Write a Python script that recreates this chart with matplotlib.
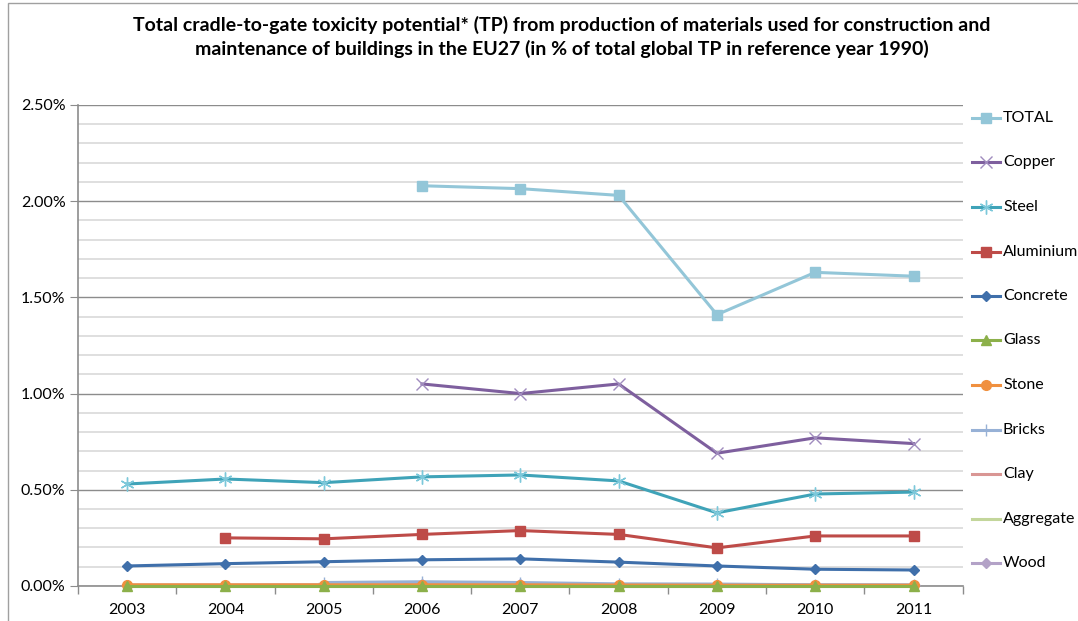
import numpy as np
import matplotlib
matplotlib.use("Agg")
import matplotlib.pyplot as plt
from matplotlib.ticker import MultipleLocator, FuncFormatter
from matplotlib.lines import Line2D
from matplotlib.patches import Rectangle

plt.rcParams['font.family'] = ['Lato', 'DejaVu Sans']

# donnees (en %)
years = ['2003', '2004', '2005', '2006', '2007', '2008', '2009', '2010', '2011']
nan = np.nan
total = [nan, nan, nan, 2.08, 2.065, 2.03, 1.41, 1.63, 1.61]
copper = [nan, nan, nan, 1.05, 1.00, 1.05, 0.69, 0.77, 0.74]
steel = [0.53, 0.556, 0.537, 0.567, 0.577, 0.546, 0.38, 0.478, 0.488]
aluminium = [nan, 0.25, 0.245, 0.268, 0.288, 0.268, 0.198, 0.26, 0.26]
concrete = [0.104, 0.116, 0.126, 0.136, 0.141, 0.124, 0.104, 0.087, 0.083]
glass = [0.001, 0.001, 0.001, 0.001, 0.001, 0.001, 0.001, 0.001, 0.001]
stone = [0.006, 0.006, 0.006, 0.006, 0.006, 0.005, 0.004, 0.004, 0.004]
bricks = [nan, nan, 0.018, 0.022, 0.018, 0.011, 0.010, 0.006, 0.005]
clay = [0.003, 0.003, 0.003, 0.003, 0.003, 0.003, 0.003, 0.003, 0.003]
aggregate = [0.002, 0.002, 0.002, 0.002, 0.002, 0.002, 0.002, 0.002, 0.002]
wood = [0.005, 0.005, 0.006, 0.008, 0.008, 0.007, 0.006, 0.005, 0.005]

# nom, valeurs, couleur ligne, marqueur, taille, couleur marqueur
series = [
    ('TOTAL', total, '#93C6D8', 's', 7, '#93C6D8'),
    ('Copper', copper, '#7E5F9E', 'x', 8, '#A08CBE'),
    ('Steel', steel, '#3FA3B8', (6, 2, 0), 10, '#7CC8DA'),
    ('Aluminium', aluminium, '#BE4B48', 's', 7, '#BE4B48'),
    ('Concrete', concrete, '#3F6FAA', 'D', 5.5, '#3F6FAA'),
    ('Glass', glass, '#8CB04A', '^', 7, '#8CB04A'),
    ('Stone', stone, '#F0903F', 'o', 7, '#F0903F'),
    ('Bricks', bricks, '#97B1D6', '+', 9, '#97B1D6'),
    ('Clay', clay, '#D99694', '_', 8, '#D99694'),
    ('Aggregate', aggregate, '#C3D69B', '', 0, '#C3D69B'),
    ('Wood', wood, '#B3A2C7', 'D', 5, '#B3A2C7'),
]

fig = plt.figure(figsize=(10.78, 6.21), dpi=100)
ax = fig.add_axes([0.0724, 0.0564, 0.8206, 0.7746])
x = np.arange(len(years))

# grille
ax.yaxis.set_major_locator(MultipleLocator(0.5))
ax.yaxis.set_minor_locator(MultipleLocator(0.1))
ax.grid(which='minor', axis='y', color='#D9D9D9', lw=1.2)
ax.grid(which='major', axis='y', color='#8C8C8C', lw=1.0)
ax.set_axisbelow(True)

# on dessine a l'envers pour que TOTAL soit au dessus
for name, vals, col, mk, ms, mc in reversed(series):
    ax.plot(x, vals, color=col, lw=2.2, marker=mk if mk else None, ms=ms,
            mew=1.0, mfc=mc, mec=mc, label=name, zorder=3, clip_on=False)

ax.set_xlim(-0.5, len(years) - 0.5)
ax.set_ylim(0, 2.5)
ax.set_xticks(x)
ax.set_xticklabels(years)
ax.set_xticks(np.arange(-0.5, len(years)), minor=True)
ax.tick_params(axis='x', which='major', length=0, pad=12, labelsize=11.5)
ax.tick_params(axis='x', which='minor', length=6, color='#8C8C8C', width=1)
ax.tick_params(axis='y', which='major', length=6, color='#8C8C8C', labelsize=11.5, pad=3)
ax.tick_params(axis='y', which='minor', length=0)
ax.yaxis.set_major_formatter(FuncFormatter(lambda v, p: '%.2f%%' % v))

for s in ['top', 'right']:
    ax.spines[s].set_visible(False)
ax.spines['left'].set_color('#8C8C8C')
ax.spines['bottom'].set_color('#8C8C8C')
ax.spines['left'].set_linewidth(1.2)
ax.spines['bottom'].set_linewidth(1.2)

# legende faite a la main
y0 = 1 - 118 / 621
dy = 44.5 / 621
for i, (name, vals, col, mk, ms, mc) in enumerate(series):
    yy = y0 - i * dy
    fig.add_artist(Line2D([972 / 1078, 1000 / 1078], [yy, yy], color=col, lw=2.2,
                          transform=fig.transFigure))
    if mk:
        fig.add_artist(Line2D([986 / 1078], [yy], color=col, marker=mk, ms=ms, mew=1.0,
                              mfc=mc, mec=mc, transform=fig.transFigure))
    fig.text(1003 / 1078, yy, name, fontsize=11.5, va='center', ha='left')

fig.suptitle('Total cradle-to-gate toxicity potential* (TP) from production of materials used for construction and\n'
             'maintenance of buildings in the EU27 (in % of total global TP in reference year 1990)',
             x=0.521, y=0.975, fontsize=14, fontweight='bold', linespacing=1.4)

# cadre du graphique
fig.add_artist(Rectangle((8 / 1078, -0.1), 1.2, 1.1 - 3 / 621, fill=False, ec='#A0A0A0',
                         lw=1, transform=fig.transFigure))

fig.savefig('out.png', dpi=100)
